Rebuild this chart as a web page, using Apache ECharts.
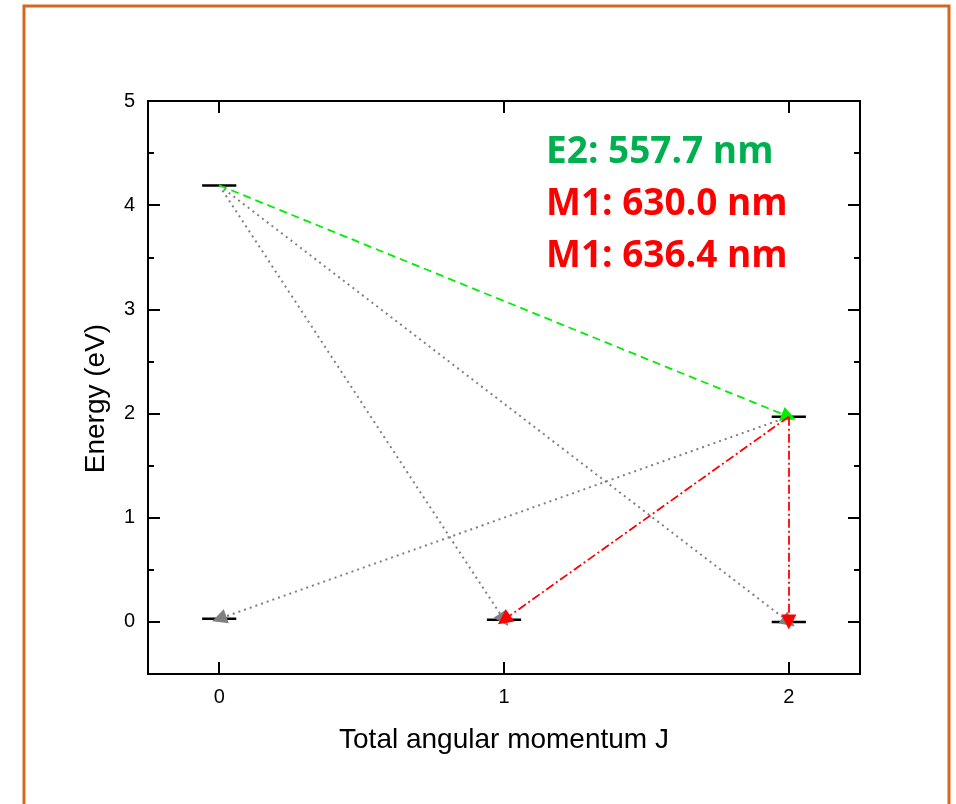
<!DOCTYPE html>
<html>
<head>
<meta charset="utf-8">
<script src="https://cdn.jsdelivr.net/npm/echarts@6/dist/echarts.min.js"></script>
<style>
  html, body { margin: 0; padding: 0; background: #ffffff; }
  #chart { width: 956px; height: 804px; }
</style>
</head>
<body>
<div id="chart"></div>
<script>
// Energy levels of atomic oxygen (ground configuration), by total angular momentum J
const levelJ = [0, 2, 0, 1, 2];
const levelEnergy = [4.19, 1.97, 0.03, 0.02, 0.0];

// Transitions as [fromLevel, toLevel] index pairs
const e2Transitions = [[0, 1]];
const grayTransitions = [[0, 3], [0, 4], [1, 2]];
const m1Transitions = [[1, 3], [1, 4]];

// Axis ticks
const xTicks = [0, 1, 2];
const yMajorTicks = [0, 1, 2, 3, 4, 5];
const yMinorTicks = [0.5, 1.5, 2.5, 3.5, 4.5];

// Annotation lines
const annotations = [
  { text: 'E2: 557.7 nm', color: '#00B050' },
  { text: 'M1: 630.0 nm', color: '#FF0000' },
  { text: 'M1: 636.4 nm', color: '#FF0000' }
];

const halfWidth = 0.06;
const axisFont = 'Liberation Sans, Arial, sans-serif';

function levelSeries(i) {
  return {
    type: 'line',
    xAxisIndex: 0, yAxisIndex: 0,
    data: [[levelJ[i] - halfWidth, levelEnergy[i]], [levelJ[i] + halfWidth, levelEnergy[i]]],
    symbol: 'none',
    lineStyle: { color: '#000', width: 2.5 },
    silent: true,
    z: 3
  };
}

function transitionSeries(pairs, color, dash, width) {
  return {
    type: 'lines',
    coordinateSystem: 'cartesian2d',
    xAxisIndex: 0, yAxisIndex: 0,
    symbol: ['none', 'triangle'],
    symbolSize: [0, 15],
    lineStyle: { color: color, width: width, type: dash, opacity: 1 },
    data: pairs.map(p => ({
      coords: [[levelJ[p[0]], levelEnergy[p[0]]], [levelJ[p[1]], levelEnergy[p[1]]]]
    })),
    silent: true,
    z: 4
  };
}

function yAxisBase(position, ticks, len, showLabel, extra) {
  return Object.assign({
    type: 'value',
    position: position,
    min: -0.5, max: 5,
    axisLine: { show: true, onZero: false, lineStyle: { color: '#000', width: 2 } },
    axisTick: { show: true, inside: true, length: len, customValues: ticks, lineStyle: { color: '#000', width: 2 } },
    axisLabel: { show: showLabel, customValues: yMajorTicks, fontFamily: axisFont, fontSize: 20, color: '#000', margin: 13 },
    splitLine: { show: false }
  }, extra || {});
}

function xAxisBase(position, showLabel, extra) {
  return Object.assign({
    type: 'value',
    position: position,
    min: -0.25, max: 2.25,
    axisLine: { show: true, onZero: false, lineStyle: { color: '#000', width: 2 } },
    axisTick: { show: true, inside: true, length: 12, customValues: xTicks, lineStyle: { color: '#000', width: 2 } },
    axisLabel: { show: showLabel, customValues: xTicks, fontFamily: axisFont, fontSize: 20, color: '#000', margin: 13 },
    splitLine: { show: false }
  }, extra || {});
}

const chart = echarts.init(document.getElementById('chart'), null, { renderer: 'canvas' });

const option = {
  backgroundColor: '#ffffff',
  animation: false,
  grid: { left: 148, right: 96, top: 101, bottom: 130 },
  xAxis: [
    xAxisBase('bottom', true, {
      name: 'Total angular momentum J',
      nameLocation: 'middle',
      nameGap: 52,
      nameTextStyle: { fontFamily: axisFont, fontSize: 28, color: '#000' }
    }),
    xAxisBase('top', false)
  ],
  yAxis: [
    yAxisBase('left', yMajorTicks, 12, true, {
      name: 'Energy (eV)',
      nameLocation: 'middle',
      nameGap: 38,
      nameRotate: 90,
      nameTextStyle: { fontFamily: axisFont, fontSize: 28, color: '#000', padding: [0, 22, 0, 0] }
    }),
    yAxisBase('left', yMinorTicks, 6, false),
    yAxisBase('right', yMajorTicks, 12, false),
    yAxisBase('right', yMinorTicks, 6, false)
  ],
  series: [
    ...levelJ.map((_, i) => levelSeries(i)),
    transitionSeries(grayTransitions, '#808080', [2, 4], 2),
    transitionSeries(e2Transitions, '#00EE00', [8, 5], 1.8),
    transitionSeries(m1Transitions, '#FF0000', [9, 3, 2, 3], 1.8)
  ],
  graphic: [
    {
      type: 'rect',
      shape: { x: 24, y: 6, width: 925, height: 830 },
      style: { fill: 'none', stroke: '#D2691E', lineWidth: 3 },
      silent: true,
      z: 10
    },
    ...annotations.map((a, i) => ({
      type: 'text',
      x: 546,
      y: 134 + i * 52,
      silent: true,
      style: {
        text: a.text,
        fill: a.color,
        font: 'bold 37px "Open Sans", sans-serif'
      }
    }))
  ]
};

chart.setOption(option);
</script>
</body>
</html>
